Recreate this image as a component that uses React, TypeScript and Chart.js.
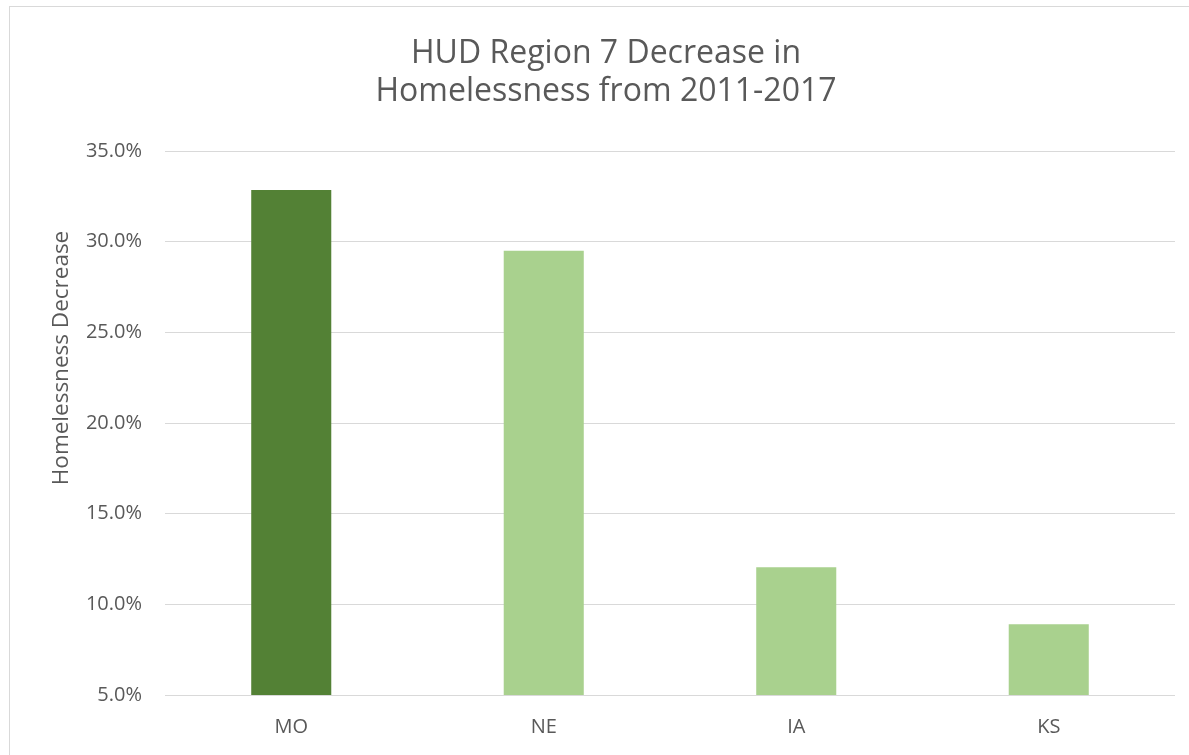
import React, { useEffect, useRef } from "react";
import { Chart, registerables } from "chart.js";

Chart.register(...registerables);

const categories = ["MO", "NE", "IA", "KS"];
const decreaseValues = [32.85, 29.5, 12.05, 8.9];
const barColors = ["#538135", "#A9D18E", "#A9D18E", "#A9D18E"];
const titleLines = ["HUD Region 7 Decrease in", "Homelessness from 2011-2017"];
const yAxisTitle = "Homelessness Decrease";
const yMin = 5;
const yMax = 35;
const yStep = 5;

const FONT = "'Open Sans', sans-serif";
const TEXT = "#595959";

const textPlugin = {
  id: "customText",
  afterDraw(chart: any) {
    const ctx = chart.ctx;
    ctx.save();
    ctx.fillStyle = TEXT;
    ctx.textAlign = "center";
    ctx.textBaseline = "alphabetic";
    ctx.font = `32px ${FONT}`;
    ctx.fillText(titleLines[0], 606, 63);
    ctx.fillText(titleLines[1], 606, 101);
    ctx.translate(62, 358);
    ctx.rotate(-Math.PI / 2);
    ctx.textBaseline = "middle";
    ctx.font = `22.5px ${FONT}`;
    ctx.fillText(yAxisTitle, 0, 0);
    ctx.restore();
  },
};

export default function App() {
  const ref = useRef<HTMLCanvasElement>(null);
  useEffect(() => {
    if (!ref.current) return;
    const chart = new Chart(ref.current, {
      type: "bar",
      data: {
        labels: categories,
        datasets: [
          {
            data: decreaseValues,
            backgroundColor: barColors,
            borderWidth: 0,
            categoryPercentage: 1,
            barPercentage: 0.317,
          },
        ],
      },
      options: {
        animation: false,
        responsive: false,
        maintainAspectRatio: false,
        layout: { padding: { left: 40, right: 14, top: 151, bottom: 0 } },
        plugins: {
          legend: { display: false },
          tooltip: { enabled: false },
          title: { display: false },
        },
        scales: {
          x: {
            grid: { display: false, drawTicks: false },
            border: { display: false },
            ticks: { color: TEXT, font: { family: FONT, size: 20 }, padding: 20 },
            afterFit(scale: any) {
              scale.height = 60;
            },
          },
          y: {
            min: yMin,
            max: yMax,
            grid: { color: "#d9d9d9", lineWidth: 1, drawTicks: false },
            border: { display: false },
            ticks: {
              stepSize: yStep,
              color: TEXT,
              font: { family: FONT, size: 20 },
              padding: 23,
              callback: (v: any) => Number(v).toFixed(1) + "%",
            },
            afterFit(scale: any) {
              scale.width = 125;
            },
          },
        },
      },
      plugins: [textPlugin],
    });
    return () => chart.destroy();
  }, []);
  return (
    <div style={{ position: "fixed", left: 0, top: 0, width: 1189, height: 755, overflow: "hidden", background: "#fff" }}>
      <div style={{ position: "absolute", left: 9, top: 6, width: 1300, height: 900, border: "1px solid #d9d9d9" }} />
      <canvas ref={ref} width={1189} height={755} style={{ position: "absolute", left: 0, top: 0, width: 1189, height: 755 }} />
    </div>
  );
}
